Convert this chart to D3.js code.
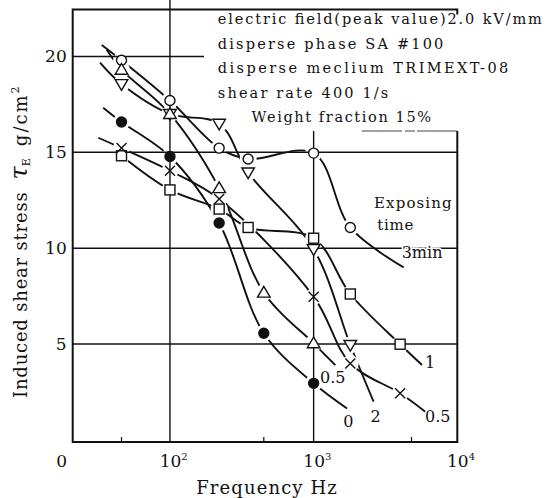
<!DOCTYPE html>
<html>
<head>
<meta charset="utf-8">
<script src="https://cdn.jsdelivr.net/npm/d3@7"></script>
<style>
  body { margin: 0; background: #fff; }
  svg text { font-family: "DejaVu Serif", serif; fill: #111; }
</style>
</head>
<body>
<div id="chart"></div>
<script>
// frequency columns (Hz) shared by all curves
var freqs = [46, 100, 220, 350, 450, 1000, 1800, 4000];

// induced shear stress (g/cm2) per exposing time, null = no point in that column
var stress3min  = [19.8, 17.7, 15.22, 14.65, null, 14.96, 11.08, null];
var stress2min  = [18.56, 17.0, 16.49, 13.95, null, 9.95, 4.95, null];
var stress1min  = [14.82, 13.04, 12.04, 11.08, null, 10.52, 7.61, 4.99];
var stress05x   = [15.22, 14.04, 12.57, null, null, 7.47, 3.99, 2.43];
var stress05tri = [19.31, 17.0, 13.13, null, 7.68, 5.04, null, null];
var stress0min  = [16.58, 14.78, 11.31, null, 5.56, 2.95, null, null];

// where each drawn curve starts before the first point and ends after the last one [Hz, g/cm2]
var leadIn  = [[33.5, 20.6], [32.6, 19.68], null, [31.7, 15.76], [36.3, 20.35], [34.3, 17.33]];
var tailOut = [[4230, 9.0], [2615, 1.99], [5680, 3.91], [5985, 1.47], [1416, 3.9], [1707, 1.64]];

// curve labels and where they sit [Hz, g/cm2]
var curveLabels = ["3min", "2", "1", "0.5", "0.5", "0"];
var labelAt = [[4100, 9.49], [2696, 0.95], [5960, 3.75], [5960, 0.95], [1108, 2.95], [1609, 0.69]];

var markerKinds = ["circle", "triDown", "square", "cross", "triUp", "dot"];

var yTicks = [5, 10, 15, 20];
var xTicks = [100, 1000, 10000];
var xTickExp = ["2", "3", "4"];
var minorTicks = [46, 450, 4800];

var notes = [
  "electric field(peak value)2.0 kV/mm",
  "disperse phase SA #100",
  "disperse meclium TRIMEXT-08",
  "shear rate 400 1/s",
  "Weight fraction 15%"
];

var allSeries = [stress3min, stress2min, stress1min, stress05x, stress05tri, stress0min];

var width = 546, height = 498;
var plotL = 72.7, plotR = 457.3, plotT = 9.5, plotB = 442;

var svg = d3.select("#chart").append("svg")
  .attr("width", width)
  .attr("height", height);

svg.append("rect").attr("width", width).attr("height", height).attr("fill", "#fff");

var x = d3.scaleLog().domain([Math.pow(10, 1.323), 10000]).range([plotL, plotR]);
var y = d3.scaleLinear().domain([-0.11, 22.45]).range([plotB, plotT]);

// grid
var grid = svg.append("g").attr("stroke", "#111").attr("stroke-width", 1.4);
grid.selectAll("line.h").data(yTicks).enter().append("line")
  .attr("x1", plotL).attr("x2", plotR)
  .attr("y1", function (d) { return y(d); })
  .attr("y2", function (d) { return y(d); });
grid.selectAll("line.v").data(xTicks.slice(0, 2)).enter().append("line")
  .attr("x1", function (d) { return x(d); })
  .attr("x2", function (d) { return x(d); })
  .attr("y1", 0).attr("y2", plotB);

// the note block hides the grid behind it
svg.append("rect").attr("x", 204).attr("y", 0).attr("width", width - 204).attr("height", 131)
  .attr("fill", "#fff");

// frame
var frame = svg.append("g").attr("stroke", "#111").attr("stroke-width", 2).attr("fill", "none");
frame.append("path").attr("d",
  "M" + plotR + "," + (plotT + 5) + "V" + plotT + "H" + plotL + "V" + plotB + "H" + plotR + "V131");
frame.append("line").attr("x1", 362).attr("x2", plotR).attr("y1", 131).attr("y2", 131)
  .attr("stroke-width", 1).attr("stroke", "#444").attr("stroke-dasharray", "40,3,10,2,60");
frame.selectAll("line.minor").data(minorTicks).enter().append("line")
  .attr("x1", function (d) { return x(d); })
  .attr("x2", function (d) { return x(d); })
  .attr("y1", plotB).attr("y2", plotB - 5)
  .attr("stroke-width", 1.2);

// y axis labels
var yAxis = svg.append("g")
  .attr("transform", "translate(" + plotL + ",0)")
  .call(d3.axisLeft(y).tickValues(yTicks).tickSize(0).tickPadding(6));
yAxis.select(".domain").remove();
yAxis.selectAll("text").attr("font-size", 17).attr("font-family", "DejaVu Serif").attr("fill", "#111");

// x axis labels as powers of ten
var xAxis = svg.append("g")
  .attr("transform", "translate(0," + plotB + ")")
  .call(d3.axisBottom(x).tickValues(xTicks).tickSize(0).tickFormat(""));
xAxis.select(".domain").remove();
xAxis.selectAll("text")
  .attr("text-anchor", "start")
  .attr("font-size", 17).attr("font-family", "DejaVu Serif").attr("fill", "#111")
  .attr("x", -10.8).attr("y", 25).attr("dy", 0)
  .each(function (d, i) {
    var t = d3.select(this);
    t.append("tspan").text("10");
    t.append("tspan").attr("font-size", 10).attr("dy", -7).text(xTickExp[i]);
  });
svg.append("text")
  .attr("x", x(x.domain()[0]) - 11)
  .attr("y", plotB + 25)
  .attr("text-anchor", "middle").attr("font-size", 17)
  .text("0");

// curves through points, cut back around every marker
var markers = [];
allSeries.forEach(function (vals, s) {
  vals.forEach(function (v, i) {
    if (v !== null) markers.push({ s: s, f: freqs[i], v: v, kind: markerKinds[s] });
  });
});

var defs = svg.append("defs");
var mask = defs.append("mask").attr("id", "gap").attr("maskUnits", "userSpaceOnUse")
  .attr("x", 0).attr("y", 0).attr("width", width).attr("height", height);
mask.append("rect").attr("width", width).attr("height", height).attr("fill", "#fff");
mask.selectAll("circle").data(markers).enter().append("circle")
  .attr("cx", function (d) { return x(d.f); })
  .attr("cy", function (d) { return y(d.v); })
  .attr("r", 8.5).attr("fill", "#000");

var line = d3.line()
  .x(function (d) { return x(d[0]); })
  .y(function (d) { return y(d[1]); })
  .curve(d3.curveCatmullRom.alpha(0.5));

var curves = svg.append("g").attr("mask", "url(#gap)")
  .attr("fill", "none").attr("stroke", "#111").attr("stroke-width", 1.9);
allSeries.forEach(function (vals, s) {
  var pts = [];
  if (leadIn[s]) pts.push(leadIn[s]);
  vals.forEach(function (v, i) { if (v !== null) pts.push([freqs[i], v]); });
  if (tailOut[s]) pts.push(tailOut[s]);
  curves.append("path").attr("d", line(pts));
});

// markers
var mk = svg.append("g").attr("stroke", "#111").attr("stroke-width", 1.4);
markers.forEach(function (d) {
  var g = mk.append("g").attr("transform", "translate(" + x(d.f) + "," + y(d.v) + ")");
  if (d.kind === "circle") g.append("circle").attr("r", 5).attr("fill", "#fff");
  if (d.kind === "dot") g.append("circle").attr("r", 5).attr("fill", "#111");
  if (d.kind === "square") g.append("rect").attr("x", -5).attr("y", -5).attr("width", 10).attr("height", 10).attr("fill", "#fff");
  if (d.kind === "triUp") g.append("path").attr("d", "M0,-6.2L6.3,4.5L-6.3,4.5Z").attr("fill", "#fff");
  if (d.kind === "triDown") g.append("path").attr("d", "M0,6.2L6.3,-4.5L-6.3,-4.5Z").attr("fill", "#fff");
  if (d.kind === "cross") g.append("path").attr("d", "M-5,-5L5,5M5,-5L-5,5").attr("fill", "none");
});

// curve labels
svg.selectAll("text.lab").data(curveLabels).enter().append("text")
  .attr("class", "lab")
  .attr("x", function (d, i) { return x(labelAt[i][0]); })
  .attr("y", function (d, i) { return y(labelAt[i][1]); })
  .attr("text-anchor", function (d, i) { return i === 1 ? "middle" : "start"; })
  .attr("font-size", 16)
  .attr("stroke", "#fff").attr("stroke-width", 3).attr("paint-order", "stroke")
  .text(function (d) { return d; });

svg.append("text").attr("x", 374).attr("y", 208).attr("font-size", 15)
  .attr("textLength", 77.7).attr("lengthAdjust", "spacing").text("Exposing");
svg.append("text").attr("x", 377.3).attr("y", 230).attr("font-size", 15)
  .attr("textLength", 36).attr("lengthAdjust", "spacing").text("time");

// conditions block
var noteX = [217.8, 217.8, 217.8, 217.8, 251.6];
var noteW = [324, 225.5, 290.5, 170.5, 179.4];
svg.selectAll("text.note").data(notes).enter().append("text")
  .attr("class", "note")
  .attr("x", function (d, i) { return noteX[i]; })
  .attr("y", function (d, i) { return 24 + i * 24.6; })
  .attr("font-size", 14.5)
  .attr("textLength", function (d, i) { return noteW[i]; })
  .attr("lengthAdjust", "spacing")
  .text(function (d) { return d; });

// axis titles
svg.append("text")
  .attr("x", 266.5).attr("y", 494)
  .attr("text-anchor", "middle").attr("font-size", 18)
  .attr("textLength", 140.6).attr("lengthAdjust", "spacing")
  .text("Frequency Hz");

var yt = svg.append("text")
  .attr("transform", "translate(27,398) rotate(-90)")
  .attr("font-size", 18);
yt.append("tspan").attr("letter-spacing", 0.8).text("Induced shear stress");
yt.append("tspan").attr("font-size", 24).attr("font-style", "italic").attr("dx", 12).text("\u03C4");
yt.append("tspan").attr("font-size", 11).attr("dy", 3).text("E");
yt.append("tspan").attr("dy", -3).attr("dx", 12).attr("letter-spacing", 2).text("g/cm");
yt.append("tspan").attr("font-size", 11).attr("dy", -8).text("2");
</script>
</body>
</html>
